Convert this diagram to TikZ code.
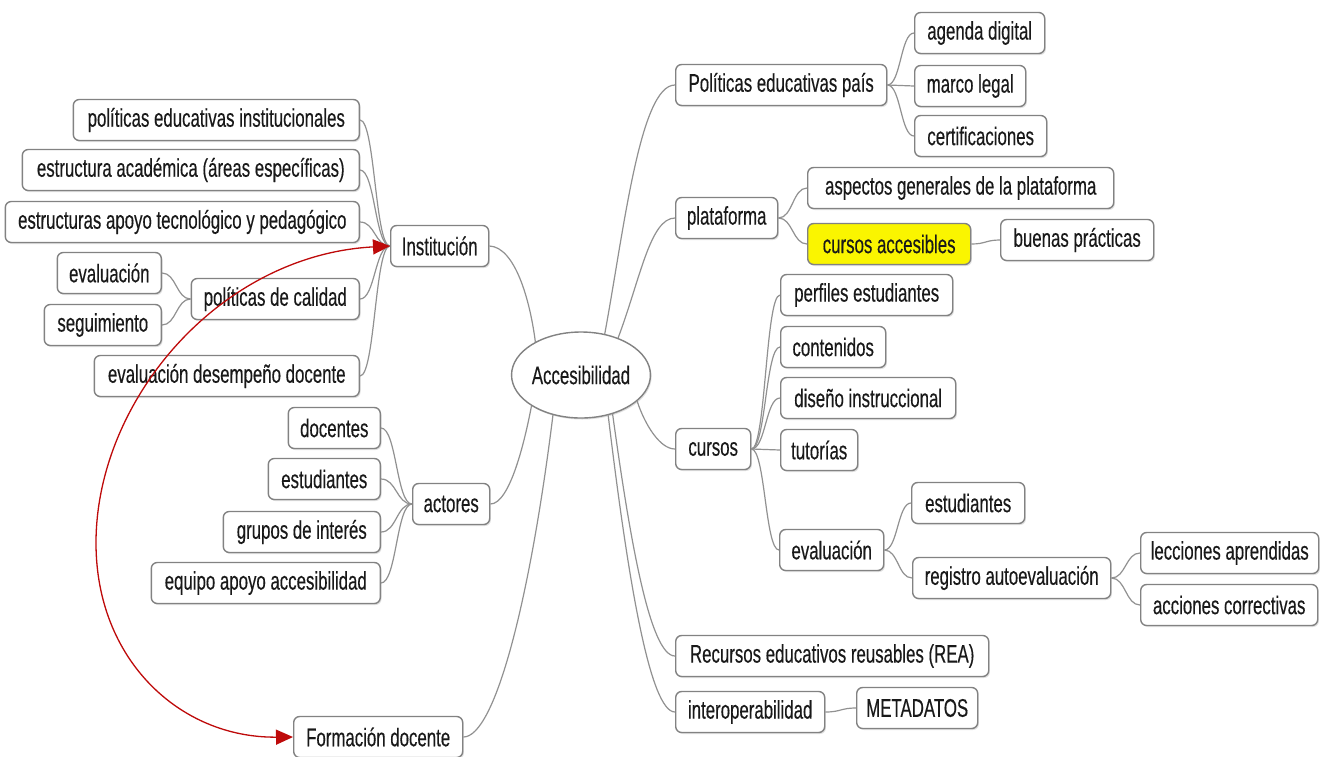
\documentclass[tikz,border=0pt]{standalone}
\usepackage{fontspec}
\usetikzlibrary{calc,shapes.geometric,shadows,arrows.meta}
\newfontfamily\mmfam[FakeStretch=0.66,FakeBold=0.3]{Liberation Sans}
\newcommand\mmfont{\mmfam\fontsize{25.5}{28}\selectfont}
\definecolor{boxgray}{RGB}{130,130,130}
\definecolor{linegray}{RGB}{145,145,145}
\definecolor{txt}{RGB}{25,25,25}
\definecolor{hiyellow}{RGB}{250,245,0}
\definecolor{darkred}{RGB}{190,10,10}
\newcommand\mmlink[2]{%
  \path ($(#1)!0.5!(#2)$) coordinate (mmm);
  \draw[link] (#1) .. controls (mmm |- #1) and (mmm |- #2) .. (#2);}
\begin{document}
\begin{tikzpicture}[x=1pt,y=-1pt,
  box/.style={draw=boxgray, line width=1.4pt, rounded corners=6pt, fill=white,
    minimum height=41pt, inner xsep=9pt, inner ysep=0pt, font=\mmfont, text=txt,
    drop shadow={shadow xshift=1.2pt, shadow yshift=-1.5pt, opacity=0.25}},
  link/.style={draw=linegray, line width=1.2pt},
  redarr/.style={draw=darkred, line width=1.3pt,
    {Triangle[length=17pt,width=15pt,fill=darkred]}-{Triangle[length=17pt,width=15pt,fill=darkred]}}
]
\useasboundingbox (0,0) rectangle (1332,756);
\fill[white] (0,0) rectangle (1332,756);

% centre
\node[ellipse, draw=boxgray, line width=1.4pt, fill=white, minimum width=128pt,
  minimum height=86pt, inner sep=0pt, font=\mmfont, text=txt,
  drop shadow={shadow xshift=1.2pt, shadow yshift=-1.5pt, opacity=0.25}] (acc) at (581,375) {Accesibilidad};

% left side
\node[box, anchor=east, minimum width=286pt] (pei) at (360,120) {políticas educativas institucionales};
\node[box, anchor=east, minimum width=337pt] (ea)  at (360,170) {estructura académica (áreas específicas)};
\node[box, anchor=east, minimum width=354pt] (eat) at (360,222) {estructuras apoyo tecnológico y pedagógico};
\node[box, anchor=east, minimum width=168pt] (pc)  at (360,299) {políticas de calidad};
\node[box, anchor=east, minimum width=265pt] (edd) at (360,376) {evaluación desempeño docente};
\node[box, anchor=east, minimum width=104pt] (evl) at (162,273) {evaluación};
\node[box, anchor=east, minimum width=117pt] (seg) at (162,325) {seguimiento};
\node[box, anchor=west, minimum width=98pt] (inst) at (390,246) {Institución};

\node[box, anchor=east, minimum width=92pt]  (doc) at (381,428) {docentes};
\node[box, anchor=east, minimum width=112pt] (est) at (381,479) {estudiantes};
\node[box, anchor=east, minimum width=157pt] (gru) at (381,532) {grupos de interés};
\node[box, anchor=east, minimum width=229pt] (equ) at (381,583) {equipo apoyo accesibilidad};
\node[box, anchor=west, minimum width=77pt]  (act) at (412,504) {actores};

\node[box, anchor=west, minimum width=169pt] (form) at (293,737) {Formación docente};

% right side
\node[box, anchor=west, minimum width=211pt] (pep)  at (675,85)  {Políticas educativas país};
\node[box, anchor=west, minimum width=130pt] (ag)   at (914,33)  {agenda digital};
\node[box, anchor=west, minimum width=111pt] (ml)   at (914,86)  {marco legal};
\node[box, anchor=west, minimum width=132pt] (cert) at (914,136) {certificaciones};

\node[box, anchor=west, minimum width=102pt] (plat) at (675,218) {plataforma};
\node[box, anchor=west, minimum width=306pt] (asp)  at (807,188) {aspectos generales de la plataforma};
\node[box, anchor=west, minimum width=163pt, fill=hiyellow] (ca) at (807,244) {cursos accesibles};
\node[box, anchor=west, minimum width=153pt] (bp)   at (1000,240) {buenas prácticas};

\node[box, anchor=west, minimum width=75pt]  (cur)  at (675,449) {cursos};
\node[box, anchor=west, minimum width=172pt] (per)  at (780,295) {perfiles estudiantes};
\node[box, anchor=west, minimum width=105pt] (con)  at (780,347) {contenidos};
\node[box, anchor=west, minimum width=175pt] (dis)  at (780,398) {diseño instruccional};
\node[box, anchor=west, minimum width=77pt]  (tut)  at (780,450) {tutorías};
\node[box, anchor=west, minimum width=104pt] (ev2)  at (779,550) {evaluación};
\node[box, anchor=west, minimum width=113pt] (est2) at (911,503) {estudiantes};
\node[box, anchor=west, minimum width=198pt] (reg)  at (912,578) {registro autoevaluación};
\node[box, anchor=west, minimum width=178pt] (lec)  at (1140,553) {lecciones aprendidas};
\node[box, anchor=west, minimum width=177pt] (acco) at (1140,605) {acciones correctivas};

\node[box, anchor=west, minimum width=313pt] (rea)   at (675,656) {Recursos educativos reusables (REA)};
\node[box, anchor=west, minimum width=149pt] (inter) at (675,712) {interoperabilidad};
\node[box, anchor=west, minimum width=121pt] (meta)  at (856,708) {METADATOS};

% links
\mmlink{pei.east}{inst.west}
\mmlink{ea.east}{inst.west}
\mmlink{eat.east}{inst.west}
\mmlink{pc.east}{inst.west}
\mmlink{edd.east}{inst.west}
\mmlink{evl.east}{pc.west}
\mmlink{seg.east}{pc.west}
\mmlink{doc.east}{act.west}
\mmlink{est.east}{act.west}
\mmlink{gru.east}{act.west}
\mmlink{equ.east}{act.west}
\mmlink{pep.east}{ag.west}
\mmlink{pep.east}{ml.west}
\mmlink{pep.east}{cert.west}
\mmlink{plat.east}{asp.west}
\mmlink{plat.east}{ca.west}
\mmlink{ca.east}{bp.west}
\mmlink{cur.east}{per.west}
\mmlink{cur.east}{con.west}
\mmlink{cur.east}{dis.west}
\mmlink{cur.east}{tut.west}
\mmlink{cur.east}{ev2.west}
\mmlink{ev2.east}{est2.west}
\mmlink{ev2.east}{reg.west}
\mmlink{reg.east}{lec.west}
\mmlink{reg.east}{acco.west}
\mmlink{inter.east}{meta.west}

\draw[link] (inst.east) .. controls (515,247) and (530,300) .. (acc.144);
\draw[link] (acc.212) .. controls (525,440) and (510,504) .. (act.east);
\draw[link] (acc.235) .. controls (530,600) and (495,737) .. (form.east);
\draw[link] (acc.60) .. controls (624,230) and (640,85) .. (pep.west);
\draw[link] (acc.45) .. controls (640,280) and (650,218) .. (plat.west);
\draw[link] (acc.-25) .. controls (645,425) and (660,449) .. (cur.west);
\draw[link] (acc.-51) .. controls (630,540) and (650,656) .. (rea.west);
\draw[link] (acc.-56) .. controls (628,580) and (650,712) .. (inter.west);

% red double arrow
\draw[redarr] (form.west) .. controls (180,738) and (96,660) .. (96,543)
  .. controls (96,400) and (220,255) .. (inst.west);
\end{tikzpicture}
\end{document}
